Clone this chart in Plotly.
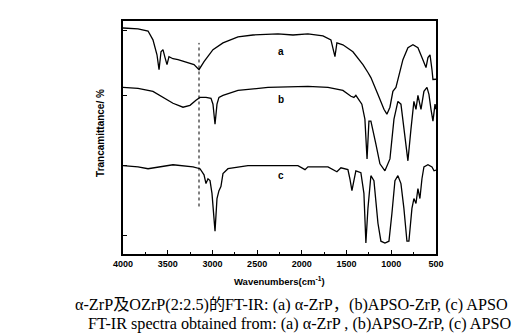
import plotly.graph_objects as go

# Curve a: alpha-ZrP
wn_a = [4000, 3832, 3720, 3665, 3620, 3597, 3575, 3553, 3530, 3508, 3486, 3441, 3385, 3273, 3206, 3150,
        3094, 2994, 2882, 2714, 2547, 2267, 2099, 1932, 1764, 1675, 1641, 1630, 1608, 1541, 1429, 1317,
        1261, 1250, 1228, 1149, 1082, 1049, 1015, 982, 948, 870, 814, 758, 702, 657, 612, 590, 567, 545,
        534, 500]
t_a = [97.0, 96.6, 95.7, 91.9, 85.5, 79.1, 86.8, 87.7, 84.3, 81.3, 84.7, 83.8, 83.4, 82.1, 81.3, 79.1,
       82.6, 87.7, 90.6, 93.2, 94.0, 94.5, 94.0, 94.5, 93.6, 91.9, 85.5, 84.7, 90.6, 89.8, 86.8, 81.3,
       77.9, 77.0, 75.7, 68.5, 62.1, 60.0, 63.0, 69.8, 71.5, 83.4, 88.5, 89.8, 88.5, 84.3, 80.0, 84.3,
       85.5, 79.1, 74.9, 75.0]

# Curve b: APSO-ZrP
wn_b = [4000, 3832, 3665, 3553, 3441, 3329, 3251, 3184, 3139, 3072, 3016, 2994, 2971, 2949, 2927, 2882,
        2714, 2379, 1932, 1708, 1541, 1451, 1418, 1396, 1329, 1295, 1271, 1250, 1228, 1172, 1127, 1071,
        1015, 970, 926, 892, 859, 814, 780, 747, 724, 702, 668, 635, 601, 579, 556, 534, 511, 500]
t_b = [71.5, 71.1, 69.8, 67.2, 64.7, 63.0, 63.8, 66.0, 67.2, 67.2, 66.8, 64.3, 55.7, 64.3, 67.2, 68.1,
       70.2, 71.5, 71.9, 71.5, 70.2, 67.7, 67.2, 68.1, 64.3, 57.9, 40.8, 57.0, 57.0, 47.2, 38.7, 35.7,
       40.8, 57.9, 65.5, 64.3, 53.6, 40.0, 53.6, 65.5, 62.1, 68.1, 62.1, 69.8, 71.5, 68.5, 62.1, 57.0,
       64.3, 62.1]

# Curve c: APSO
wn_c = [4000, 3832, 3720, 3609, 3441, 3217, 3139, 3094, 3072, 3050, 3027, 3005, 2971, 2949, 2927, 2905,
        2882, 2826, 2603, 2267, 2044, 1965, 1932, 1708, 1608, 1563, 1485, 1463, 1440, 1418, 1396, 1340,
        1306, 1284, 1261, 1228, 1194, 1149, 1116, 1071, 1026, 993, 959, 926, 892, 859, 825, 803, 769,
        747, 724, 702, 680, 657, 635, 590, 545, 522, 500]
t_c = [37.9, 37.4, 36.6, 37.4, 38.3, 37.4, 36.6, 34.0, 30.2, 32.3, 31.5, 26.0, 9.8, 23.8, 27.2, 28.9,
       34.5, 36.6, 37.9, 37.9, 37.9, 36.2, 37.4, 37.4, 35.3, 37.0, 36.2, 32.3, 27.2, 31.5, 35.7, 34.9,
       26.0, 4.7, 19.6, 33.6, 31.5, 13.2, 5.5, 4.7, 5.5, 17.4, 31.5, 33.6, 30.2, 19.6, 5.5, 5.5, 19.6,
       23.8, 21.7, 28.1, 23.8, 32.3, 37.4, 38.3, 37.4, 35.7, 36.0]

x_ticks = [4000, 3500, 3000, 2500, 2000, 1500, 1000, 500]
curve_labels = ["a", "b", "c"]
label_pos = [(2234, 86.8), (2234, 66.4), (2234, 33.6)]
marker_wn = 3150
marker_span = (20.4, 90.6)

fig = go.Figure()
for wn, t in [(wn_a, t_a), (wn_b, t_b), (wn_c, t_c)]:
    fig.add_trace(go.Scatter(x=wn, y=t, mode="lines", line=dict(color="black", width=1.3),
                             showlegend=False, hoverinfo="skip"))

fig.add_shape(type="line", xref="x", yref="y", x0=marker_wn, x1=marker_wn,
              y0=marker_span[0], y1=marker_span[1], line=dict(color="black", width=1, dash="dot"))

for lab, (lx, ly) in zip(curve_labels, label_pos):
    fig.add_annotation(x=lx, y=ly, text="<b>" + lab + "</b>", showarrow=False,
                       font=dict(family="Liberation Sans, Arial", size=10, color="black"))

fig.add_annotation(xref="paper", yref="paper", x=0.5, y=-0.118, yanchor="middle",
                   text="<b>Wavenumbers(cm<sup>-1</sup>)</b>", showarrow=False,
                   font=dict(family="Liberation Sans, Arial", size=9.5, color="black"))

fig.add_annotation(xref="paper", yref="paper", x=-0.07, y=0.52, textangle=-90,
                   xanchor="center", yanchor="middle",
                   text="<b>Trancamittance/ %</b>", showarrow=False,
                   font=dict(family="Liberation Sans, Arial", size=10, color="black"))

cap_font = dict(family="Liberation Serif, Times New Roman, Noto Sans CJK SC", size=16.2, color="black")
fig.add_annotation(xref="paper", yref="paper", x=0.537, y=-0.221, yanchor="middle", xanchor="center",
                   text="α-ZrP及OZrP(2:2.5)的FT-IR: (a) α-ZrP，(b)APSO-ZrP, (c) APSO",
                   showarrow=False, font=cap_font)
fig.add_annotation(xref="paper", yref="paper", x=0.564, y=-0.302, yanchor="middle", xanchor="center",
                   text="FT-IR spectra obtained from: (a) α-ZrP , (b)APSO-ZrP, (c) APSO",
                   showarrow=False, font=cap_font)

fig.update_xaxes(range=[4000, 500], tickvals=x_ticks, ticktext=["<b>%d</b>" % v for v in x_ticks],
                 ticks="inside", ticklen=4, tickcolor="black", showline=True, linecolor="black",
                 linewidth=1.5, mirror=True, showgrid=False, zeroline=False,
                 tickfont=dict(family="Liberation Sans, Arial", size=9, color="black"),
                 minor=dict(ticks="inside", ticklen=2, dtick=250, tickcolor="black"))
fig.update_yaxes(range=[0, 100], tickvals=[8, 38, 68, 96], showticklabels=False,
                 ticks="inside", ticklen=4, tickcolor="black", showline=True, linecolor="black",
                 linewidth=1.5, mirror=True, showgrid=False, zeroline=False)

fig.update_layout(width=525, height=335, margin=dict(l=115, r=97, t=11, b=89),
                  plot_bgcolor="white", paper_bgcolor="white")

fig.write_html("out.html")
